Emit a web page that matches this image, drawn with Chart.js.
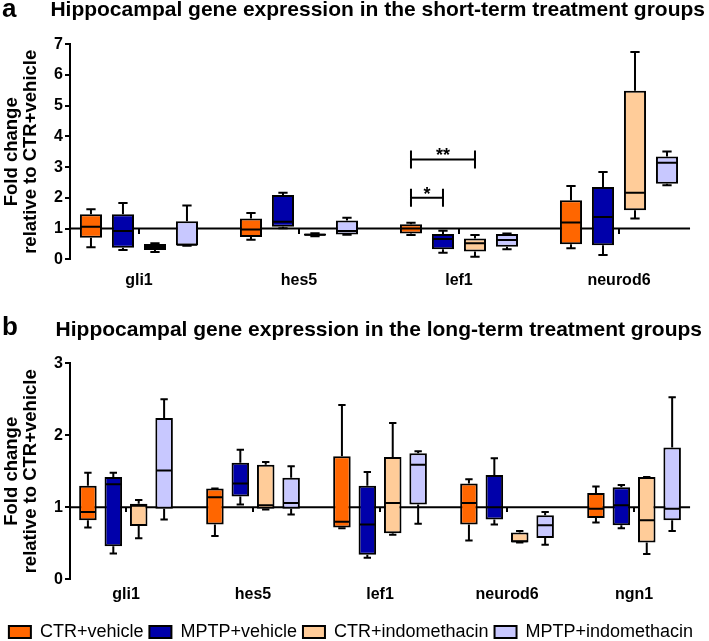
<!DOCTYPE html>
<html>
<head>
<meta charset="utf-8">
<script src="https://cdn.jsdelivr.net/npm/chart.js@4.4.0/dist/chart.umd.min.js"></script>
<style>
  body { margin: 0; width: 709px; height: 641px; overflow: hidden; background: #fff; position: relative; font-family: "Liberation Sans", Arial, sans-serif; }
  canvas { position: absolute; left: 0; }
  #panelA { top: 0; }
  #panelB { top: 300px; }
  .letter { position: absolute; left: 2px; font-size: 26px; font-weight: bold; line-height: 26px; color: #000; }
</style>
</head>
<body>
<canvas id="panelA" width="709" height="300"></canvas>
<canvas id="panelB" width="709" height="351"></canvas>
<div class="letter" style="top:-5px">a</div>
<div class="letter" style="top:313px">b</div>
<script>
Chart.defaults.font.family = '"Liberation Sans", Arial, sans-serif';
Chart.defaults.color = '#000';

const groupNames = ['CTR+vehicle', 'MPTP+vehicle', 'CTR+indomethacin', 'MPTP+indomethacin'];
const groupColors = ['#ff6600', '#0000aa', '#ffcc99', '#c8c8ff'];

// every box is [min, q1, median, q3, max]
const shortGenes = ['gli1', 'hes5', 'lef1', 'neurod6'];
const shortCtrVehicle  = [[0.39, 0.70, 1.06, 1.47, 1.63], [0.64, 0.73, 0.97, 1.33, 1.51], [0.79, 0.84, 1.00, 1.14, 1.19], [0.36, 0.49, 1.20, 1.92, 2.39]];
const shortMptpVehicle = [[0.30, 0.38, 0.92, 1.47, 1.83], [1.01, 1.06, 1.22, 2.09, 2.17], [0.21, 0.33, 0.66, 0.82, 0.93], [0.14, 0.46, 1.38, 2.35, 2.84]];
const shortCtrIndo     = [[0.24, 0.30, 0.40, 0.50, 0.52], [0.75, 0.77, 0.80, 0.84, 0.85], [0.08, 0.25, 0.52, 0.68, 0.79], [1.33, 1.60, 2.17, 5.49, 6.75]];
const shortMptpIndo    = [[0.44, 0.45, 0.47, 1.24, 1.75], [0.80, 0.81, 0.92, 1.26, 1.35], [0.33, 0.41, 0.63, 0.82, 0.84], [2.41, 2.46, 3.14, 3.35, 3.51]];

// significance brackets (short-term, lef1)
const sigGene = 2;
const sigFrom = [0, 0];
const sigTo = [1, 2];
const sigLevel = [2.0, 3.25];
const sigLabels = ['*', '**'];

const longGenes = ['gli1', 'hes5', 'lef1', 'neurod6', 'ngn1'];
const longCtrVehicle  = [[0.72, 0.82, 0.935, 1.30, 1.48], [0.60, 0.76, 1.14, 1.26, 1.26], [0.71, 0.72, 0.80, 1.71, 2.42], [0.54, 0.76, 1.06, 1.33, 1.39], [0.79, 0.85, 0.98, 1.20, 1.29]];
const longMptpVehicle = [[0.36, 0.46, 1.32, 1.42, 1.48], [1.04, 1.15, 1.33, 1.62, 1.80], [0.30, 0.34, 0.76, 1.30, 1.49], [0.76, 0.83, 1.00, 1.45, 1.68], [0.71, 0.75, 1.03, 1.28, 1.31]];
const longCtrIndo     = [[0.57, 0.74, 1.02, 1.05, 1.10], [0.97, 0.98, 1.03, 1.59, 1.63], [0.62, 0.64, 1.06, 1.70, 2.17], [0.51, 0.51, 0.53, 0.65, 0.67], [0.35, 0.51, 0.82, 1.42, 1.42]];
const longMptpIndo    = [[0.83, 0.98, 1.51, 2.24, 2.50], [0.90, 0.98, 1.06, 1.41, 1.57], [0.77, 1.04, 1.59, 1.75, 1.78], [0.48, 0.575, 0.75, 0.89, 0.935], [0.67, 0.82, 0.98, 1.83, 2.53]];

function boxDatasets(series) {
    return series.map((stats, k) => ({
        label: groupNames[k],
        data: stats.map((s, i) => ({x: i, y: [s[1], s[3]]})),
        stats,
        backgroundColor: groupColors[k],
        borderColor: '#000',
        borderWidth: 2,
        borderSkipped: false,
        categoryPercentage: 0.8,
        barPercentage: 0.69,
        order: 1
    }));
}

// reference line at fold change = 1
function baseline(from, to) {
    return {
        type: 'line',
        label: 'baseline',
        data: [{x: from, y: 1}, {x: to, y: 1}],
        borderColor: '#000',
        borderWidth: 2,
        pointRadius: 0,
        order: 10
    };
}

const whiskers = {
    id: 'whiskers',
    afterDatasetsDraw(chart) {
        const ctx = chart.ctx;
        const y = chart.scales.y;
        ctx.save();
        ctx.strokeStyle = '#000';
        ctx.lineWidth = 2;
        chart.data.datasets.forEach((ds, k) => {
            if (!ds.stats) return;
            chart.getDatasetMeta(k).data.forEach((bar, i) => {
                const [min, q1, med, q3, max] = ds.stats[i];
                const half = bar.width / 2;
                const cap = bar.width * 0.21;
                const x = bar.x;
                const pMin = y.getPixelForValue(min), pQ1 = y.getPixelForValue(q1);
                const pMed = y.getPixelForValue(med), pQ3 = y.getPixelForValue(q3);
                const pMax = y.getPixelForValue(max);
                ctx.beginPath();
                ctx.moveTo(x, pQ3); ctx.lineTo(x, pMax);
                ctx.moveTo(x - cap, pMax); ctx.lineTo(x + cap, pMax);
                ctx.moveTo(x, pQ1); ctx.lineTo(x, pMin);
                ctx.moveTo(x - cap, pMin); ctx.lineTo(x + cap, pMin);
                ctx.moveTo(x - half + 1, pMed); ctx.lineTo(x + half - 1, pMed);
                ctx.stroke();
            });
        });
        ctx.restore();
    }
};

const brackets = {
    id: 'brackets',
    afterDatasetsDraw(chart) {
        const ctx = chart.ctx;
        const y = chart.scales.y;
        ctx.save();
        ctx.strokeStyle = '#000';
        ctx.fillStyle = '#000';
        ctx.lineWidth = 2;
        ctx.font = 'bold 18px "Liberation Sans", Arial, sans-serif';
        ctx.textAlign = 'center';
        ctx.textBaseline = 'alphabetic';
        sigLabels.forEach((label, k) => {
            const x1 = chart.getDatasetMeta(sigFrom[k]).data[sigGene].x;
            const x2 = chart.getDatasetMeta(sigTo[k]).data[sigGene].x;
            const py = y.getPixelForValue(sigLevel[k]);
            ctx.beginPath();
            ctx.moveTo(x1, py); ctx.lineTo(x2, py);
            ctx.moveTo(x1, py - 9); ctx.lineTo(x1, py + 9);
            ctx.moveTo(x2, py - 9); ctx.lineTo(x2, py + 9);
            ctx.stroke();
            ctx.fillText(label, (x1 + x2) / 2, py + 2);
        });
        ctx.restore();
    }
};

function createChart(canvasId, cfg) {
    const datasets = boxDatasets(cfg.series);
    datasets.push(baseline(cfg.xMin, cfg.lineEnd));

    return new Chart(document.getElementById(canvasId), {
        type: 'bar',
        data: {datasets},
        plugins: cfg.plugins,
        options: {
            responsive: false,
            animation: false,
            events: [],
            layout: {padding: cfg.padding},
            scales: {
                x: {
                    type: 'linear',
                    min: cfg.xMin,
                    max: cfg.xMax,
                    offset: false,
                    border: {display: false},
                    grid: {display: false, drawTicks: false, offset: false},
                    ticks: {
                        stepSize: 1,
                        includeBounds: false,
                        autoSkip: false,
                        maxRotation: 0,
                        padding: cfg.labelPad,
                        font: {size: 16, weight: 'bold'},
                        callback: v => cfg.genes[v] ?? ''
                    },
                    afterFit: s => { s.height = cfg.xHeight; }
                },
                // small category ticks hanging from the y = 1 line
                x2: {
                    type: 'linear',
                    axis: 'x',
                    position: {y: 1},
                    min: cfg.xMin,
                    max: cfg.xMax,
                    offset: false,
                    border: {display: false},
                    grid: {offset: false, drawOnChartArea: false, drawTicks: true, tickLength: 5, color: '#000', lineWidth: 2},
                    ticks: {display: false, stepSize: 1, includeBounds: false}
                },
                y: {
                    min: 0,
                    max: cfg.yMax,
                    border: {display: true, color: '#000', width: 2},
                    grid: {drawOnChartArea: false, drawTicks: true, tickLength: 5, color: '#000', lineWidth: 2},
                    ticks: {stepSize: 1, padding: 2, font: {size: 16, weight: 'bold'}},
                    title: {
                        display: true,
                        text: ['Fold change', 'relative to CTR+vehicle'],
                        font: {size: 18.5, weight: 'bold', lineHeight: 1},
                        padding: {top: 3, bottom: 0}
                    },
                    afterFit: s => { s.width = 70; }
                }
            },
            plugins: {
                title: {
                    display: true,
                    text: cfg.title,
                    align: 'end',
                    font: {size: 21, weight: 'bold', lineHeight: 1},
                    padding: cfg.titlePad
                },
                legend: cfg.legend ? {
                    display: true,
                    position: 'bottom',
                    labels: {
                        boxWidth: 22,
                        boxHeight: 12,
                        padding: 6,
                        font: {size: 18},
                        generateLabels: chart => Chart.defaults.plugins.legend.labels.generateLabels(chart)
                            .filter(item => item.datasetIndex < groupNames.length)
                    }
                } : {display: false},
                tooltip: {enabled: false}
            }
        }
    });
}

createChart('panelA', {
    genes: shortGenes,
    series: [shortCtrVehicle, shortMptpVehicle, shortCtrIndo, shortMptpIndo],
    xMin: -0.431, xMax: 3.5375, lineEnd: 3.444,
    yMax: 7,
    title: 'Hippocampal gene expression in the short-term treatment groups',
    titlePad: {top: 0, bottom: 23.3},
    padding: {top: 0, right: 4, bottom: 0, left: 0},
    xHeight: 40.7,
    labelPad: 12,
    legend: false,
    plugins: [whiskers, brackets]
});

createChart('panelB', {
    genes: longGenes,
    series: [longCtrVehicle, longMptpVehicle, longCtrIndo, longMptpIndo],
    xMin: -0.441, xMax: 4.535, lineEnd: 4.441,
    yMax: 3,
    title: 'Hippocampal gene expression in the long-term treatment groups',
    titlePad: {top: 20, bottom: 22.3},
    padding: {top: 0, right: 7, bottom: 0, left: 0},
    xHeight: 37.7,
    labelPad: 6,
    legend: true,
    plugins: [whiskers]
});
</script>
</body>
</html>
